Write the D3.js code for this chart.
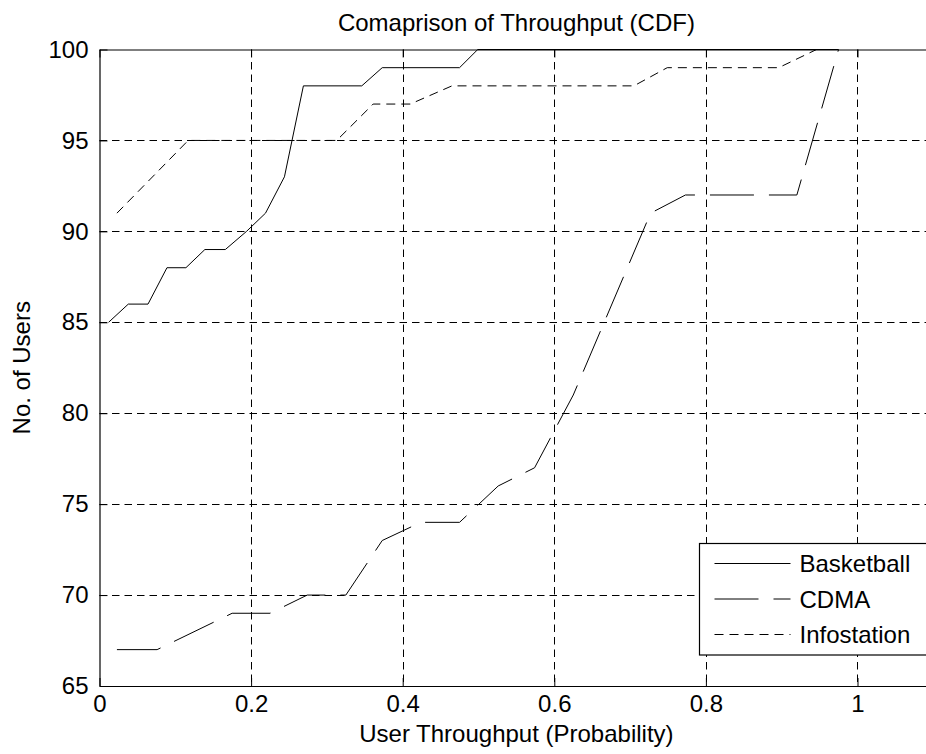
<!DOCTYPE html>
<html>
<head>
<meta charset="utf-8">
<script src="https://cdn.jsdelivr.net/npm/d3@7"></script>
<style>
  html, body { margin: 0; padding: 0; background: #fff; overflow: hidden; }
  svg { display: block; font-family: "Liberation Sans", Arial, sans-serif; }
</style>
</head>
<body>
<div id="chart"></div>
<script>
// Values
const basketballX = [0.012, 0.038, 0.064, 0.089, 0.114, 0.139, 0.166, 0.194, 0.219, 0.244, 0.269, 0.346, 0.373, 0.475, 0.499, 0.975];
const basketballY = [85, 86, 86, 88, 88, 89, 89, 90, 91, 93, 98, 98, 99, 99, 100, 100];

const cdmaX = [0.023, 0.076, 0.175, 0.225, 0.274, 0.325, 0.373, 0.424, 0.475, 0.526, 0.574, 0.625, 0.727, 0.773, 0.92, 0.975];
const cdmaY = [67, 67, 69, 69, 70, 70, 73, 74, 74, 76, 77, 81, 91, 92, 92, 100];

const infoX = [0.023, 0.117, 0.313, 0.361, 0.41, 0.465, 0.705, 0.749, 0.896, 0.946, 0.975];
const infoY = [91, 95, 95, 97, 97, 98, 98, 99, 99, 100, 100];

const seriesNames = ['Basketball', 'CDMA', 'Infostation'];
const xTicks = [0, 0.2, 0.4, 0.6, 0.8, 1];
const yTicks = [65, 70, 75, 80, 85, 90, 95, 100];

const width = 926;
const height = 754;
const plot = { left: 99.5, top: 49.5, bottom: 686, right: 933.3 };

const series = [
  { name: seriesNames[0], xs: basketballX, ys: basketballY, dash: null },
  { name: seriesNames[1], xs: cdmaX, ys: cdmaY, dash: '44,15' },
  { name: seriesNames[2], xs: infoX, ys: infoY, dash: '9,6' },
];

function drawChart() {
  const svg = d3.select('#chart').append('svg')
    .attr('width', width)
    .attr('height', height);

  const x = d3.scaleLinear().domain([0, 1.1]).range([plot.left, plot.right]);
  const y = d3.scaleLinear().domain([65, 100]).range([plot.bottom, plot.top]);

  // grid
  const grid = svg.append('g')
    .attr('stroke', '#000')
    .attr('stroke-width', 1)
    .attr('stroke-dasharray', '7.5,5');
  grid.selectAll('line.gx')
    .data(xTicks.slice(1))
    .join('line')
    .attr('class', 'gx')
    .attr('x1', d => Math.round(x(d)) + 0.5).attr('x2', d => Math.round(x(d)) + 0.5)
    .attr('y1', plot.top).attr('y2', plot.bottom);
  grid.selectAll('line.gy')
    .data(yTicks.slice(1, -1))
    .join('line')
    .attr('class', 'gy')
    .attr('y1', d => Math.round(y(d)) + 0.5).attr('y2', d => Math.round(y(d)) + 0.5)
    .attr('x1', plot.left).attr('x2', plot.right);

  // series lines
  const line = d3.line().x(d => x(d[0])).y(d => y(d[1]));
  svg.append('g').selectAll('path')
    .data(series)
    .join('path')
    .attr('d', s => line(s.xs.map((v, i) => [v, s.ys[i]])))
    .attr('fill', 'none')
    .attr('stroke', '#000')
    .attr('stroke-width', 1)
    .attr('stroke-dasharray', s => s.dash);

  // axes (ticks pointing inward, MATLAB style)
  const fontSize = 24;
  svg.append('g')
    .attr('transform', `translate(0,${plot.bottom})`)
    .call(d3.axisBottom(x).tickValues(xTicks).tickFormat(d3.format('~g'))
      .tickSizeInner(-8).tickSizeOuter(0).tickPadding(9))
    .call(g => g.selectAll('text').attr('font-size', fontSize).attr('fill', '#000')
      .attr('font-family', '"Liberation Sans", Arial, sans-serif'));

  svg.append('g')
    .attr('transform', `translate(0,${plot.top})`)
    .call(d3.axisTop(x).tickValues(xTicks).tickFormat('')
      .tickSizeInner(-8).tickSizeOuter(0));

  svg.append('g')
    .attr('transform', `translate(${plot.left},0)`)
    .call(d3.axisLeft(y).tickValues(yTicks)
      .tickSizeInner(-8).tickSizeOuter(0).tickPadding(11))
    .call(g => g.selectAll('text').attr('font-size', fontSize).attr('fill', '#000')
      .attr('font-family', '"Liberation Sans", Arial, sans-serif'));

  svg.selectAll('.domain').attr('stroke', '#000').attr('stroke-width', 1.2);
  svg.selectAll('.tick line').attr('stroke', '#000');

  // title + labels
  svg.append('text')
    .attr('x', (plot.left + plot.right) / 2)
    .attr('y', 31)
    .attr('text-anchor', 'middle')
    .attr('font-size', fontSize)
    .text('Comaprison of Throughput (CDF)');

  svg.append('text')
    .attr('x', (plot.left + plot.right) / 2)
    .attr('y', 742)
    .attr('text-anchor', 'middle')
    .attr('font-size', fontSize)
    .text('User Throughput (Probability)');

  svg.append('text')
    .attr('transform', `translate(30,${(plot.top + plot.bottom) / 2}) rotate(-90)`)
    .attr('text-anchor', 'middle')
    .attr('font-size', fontSize)
    .text('No. of Users');

  // legend
  const legend = svg.append('g').attr('transform', 'translate(699.5,543.5)');
  legend.append('rect')
    .attr('width', 260).attr('height', 111.5)
    .attr('fill', '#fff').attr('stroke', '#000').attr('stroke-width', 1.2);
  const rows = legend.selectAll('g.row')
    .data(series)
    .join('g')
    .attr('class', 'row')
    .attr('transform', (d, i) => `translate(0,${20 + i * 35.5})`);
  rows.append('line')
    .attr('x1', 15).attr('x2', 91)
    .attr('stroke', '#000').attr('stroke-width', 1)
    .attr('stroke-dasharray', d => d.dash);
  rows.append('text')
    .attr('x', 100).attr('y', 8.5)
    .attr('font-size', fontSize)
    .text(d => d.name);
}

drawChart();
</script>
</body>
</html>
